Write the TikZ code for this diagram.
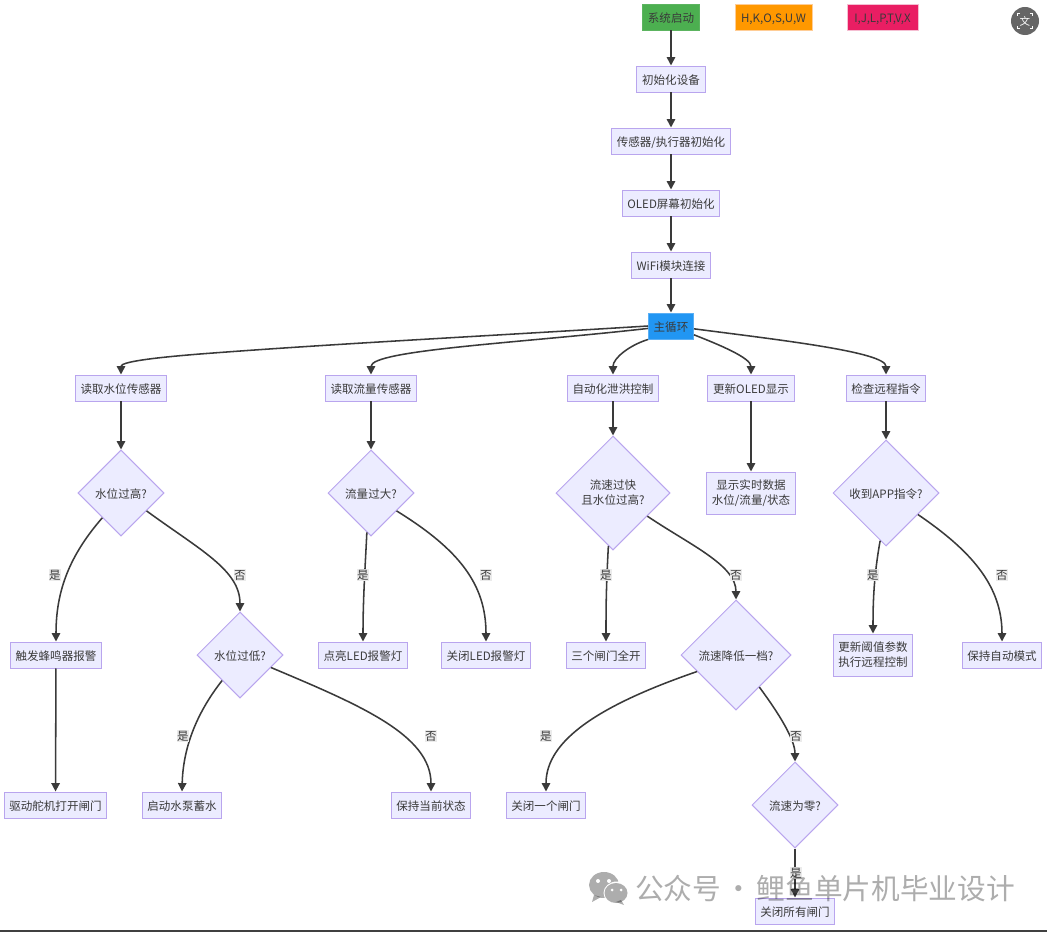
\documentclass[tikz,border=0pt]{standalone}
\usepackage{fontspec}
\setmainfont{Noto Sans CJK SC}
\usetikzlibrary{shapes.geometric,arrows.meta}

\definecolor{boxfill}{HTML}{ECECFF}
\definecolor{boxline}{HTML}{B9A5EE}
\definecolor{inktext}{HTML}{3A3A3A}
\definecolor{flowline}{HTML}{3A3A3A}
\definecolor{labelbg}{HTML}{EBEBEB}
\definecolor{startfill}{HTML}{4CAF50}
\definecolor{startline}{HTML}{5CB460}
\definecolor{orangefill}{HTML}{FF9800}
\definecolor{orangeline}{HTML}{FFCD96}
\definecolor{pinkfill}{HTML}{E91E63}
\definecolor{pinkline}{HTML}{F5BED2}
\definecolor{loopfill}{HTML}{2196F3}
\definecolor{loopline}{HTML}{5AAFF5}

\tikzset{
  plainbox/.style = {draw=boxline, fill=boxfill, line width=.7pt, text=inktext, font=\fontsize{8.2}{10.8}\selectfont, align=center, inner xsep=.13cm, inner ysep=.08cm},
  box/.style = {plainbox, minimum height=.65cm, text height=8.4pt, text depth=1pt},
  tallbox/.style = {plainbox, minimum height=1.05cm},
  plaindecision/.style = {draw=boxline, fill=boxfill, line width=.7pt, text=inktext, font=\fontsize{8.2}{10.8}\selectfont, align=center, shape=diamond, aspect=1, inner sep=0pt, minimum width=#1, minimum height=#1},
  decision/.style = {plaindecision=#1, text height=8.4pt, text depth=1pt},
  flow/.style = {draw=flowline, line width=1.1pt, -{Triangle[length=6pt,width=6pt]}},
  lbl/.style = {fill=labelbg, text=inktext, font=\fontsize{8.2}{10}\selectfont, inner sep=.5pt},
}

\begin{document}
\begin{tikzpicture}[x=0.025cm, y=-0.025cm]
\useasboundingbox (0,0) rectangle (1047,932);

\node[box, fill=startfill, draw=startline] (start) at (671,17) {系统启动};
\node[box, fill=orangefill, draw=orangeline, minimum width=1.925cm] (orangekey) at (773.5,17.5) {H,K,O,S,U,W};
\node[box, fill=pinkfill, draw=pinkline, minimum width=1.775cm] (pinkkey) at (882.5,17.5) {I,J,L,P,T,V,X};

\node[box] (init) at (671,79) {初始化设备};
\node[box] (devices) at (671,141) {传感器/执行器初始化};
\node[box] (oled) at (671,203) {OLED屏幕初始化};
\node[box] (wifi) at (671,265) {WiFi模块连接};
\node[box, fill=loopfill, draw=loopline] (mainloop) at (671,326) {主循环};

\node[box] (level) at (121,388) {读取水位传感器};
\node[box] (rate) at (371,388) {读取流量传感器};
\node[box] (auto) at (613,388) {自动化泄洪控制};
\node[box] (show) at (751,388) {更新OLED显示};
\node[box] (remote) at (886,388) {检查远程指令};

\node[decision=2.15cm] (high) at (121,493) {水位过高?};
\node[decision=2.15cm] (big) at (371,493) {流量过大?};
\node[plaindecision=2.85cm] (fast) at (613,493) {流速过快\\且水位过高?};
\node[tallbox] (data) at (751,493) {显示实时数据\\水位/流量/状态};
\node[decision=2.65cm] (app) at (886,493) {收到APP指令?};

\node[box] (buzzer) at (56,655) {触发蜂鸣器报警};
\node[decision=2.15cm] (low) at (240,655) {水位过低?};
\node[box] (ledon) at (363,655) {点亮LED报警灯};
\node[box] (ledoff) at (486,655) {关闭LED报警灯};
\node[box] (allopen) at (606,655) {三个闸门全开};
\node[decision=2.75cm] (slower) at (736,655) {流速降低一档?};
\node[tallbox] (params) at (873,655) {更新阈值参数\\执行远程控制};
\node[box] (keepauto) at (1002,655) {保持自动模式};

\node[box] (servo) at (55.5,805) {驱动舵机打开闸门};
\node[box] (pump) at (182,805) {启动水泵蓄水};
\node[box] (keep) at (431,805) {保持当前状态};
\node[box] (closeone) at (546,805) {关闭一个闸门};
\node[decision=2.15cm] (zero) at (795,805) {流速为零?};
\node[box] (closeall) at (795,911) {关闭所有闸门};

\draw[flow] (start) -- (init);
\draw[flow] (init) -- (devices);
\draw[flow] (devices) -- (oled);
\draw[flow] (oled) -- (wifi);
\draw[flow] (wifi) -- (mainloop);

\draw[flow] (mainloop.west) .. controls (470,337) and (330,344) .. (200,354) .. controls (150,358) and (121,362) .. (level.north);
\draw[flow] (mainloop.-174) .. controls (520,343) and (371,350) .. (rate.north);
\draw[flow] (mainloop.south west) .. controls (630,345) and (613,358) .. (auto.north);
\draw[flow] (mainloop.-21) .. controls (720,345) and (751,358) .. (show.north);
\draw[flow] (mainloop.-7) .. controls (780,340) and (886,352) .. (remote.north);

\draw[flow] (level) -- (high);
\draw[flow] (rate) -- (big);
\draw[flow] (auto) -- (fast);
\draw[flow] (show) -- (data);
\draw[flow] (remote) -- (app);

\draw[flow] (high.-127) .. controls (70,555) and (56,590) .. (buzzer.north);
\draw[flow] (high.-35) .. controls (200,550) and (240,570) .. (low.north);
\draw[flow] (big.-96) .. controls (365,570) and (363,600) .. (ledon.north);
\draw[flow] (big.-35) .. controls (460,550) and (486,585) .. (ledoff.north);
\draw[flow] (fast.-95) .. controls (606,590) and (606,610) .. (allopen.north);
\draw[flow] (fast.-34) .. controls (690,545) and (736,565) .. (slower.north);
\draw[flow] (app.-97) .. controls (874,575) and (873,600) .. (params.north);
\draw[flow] (app.-34) .. controls (970,550) and (1002,585) .. (keepauto.north);

\draw[flow] (buzzer) -- (servo);
\draw[flow] (low.-125) .. controls (195,715) and (183,750) .. (pump.north);
\draw[flow] (low.-22) .. controls (360,705) and (431,735) .. (keep.north);
\draw[flow] (slower.-157) .. controls (600,705) and (546,740) .. (closeone.north);
\draw[flow] (slower.-54) .. controls (780,715) and (795,740) .. (zero.north);
\draw[flow] (zero) -- (closeall);

\node[lbl] (yes1) at (55,575) {是};
\node[lbl] (no1) at (240,575) {否};
\node[lbl] (yes2) at (363,575) {是};
\node[lbl] (no2) at (486,575) {否};
\node[lbl] (yes3) at (606,575) {是};
\node[lbl] (no3) at (736,575) {否};
\node[lbl] (yes4) at (873,575) {是};
\node[lbl] (no4) at (1002,575) {否};
\node[lbl] (yes5) at (183,736) {是};
\node[lbl] (no5) at (431,736) {否};
\node[lbl] (yes6) at (546,736) {是};
\node[lbl] (no6) at (796,736) {否};
\node[lbl] (yes7) at (796,873) {是};

\node[circle, fill=black!60, minimum size=.7cm, inner sep=0pt, text=white, font=\fontsize{7.5}{9}\selectfont] (translate) at (1025,21) {文};
\foreach \sx/\sy in {-1/-1, 1/-1, 1/1, -1/1}
  \draw[white, line width=.6pt] ([xshift=\sx*.12cm, yshift=\sy*.18cm]translate.center) -- ([xshift=\sx*.18cm, yshift=\sy*.18cm]translate.center) -- ([xshift=\sx*.18cm, yshift=\sy*.12cm]translate.center);

\fill[black, opacity=.32] (604,885) ellipse (15 and 13);
\fill[black, opacity=.32] (594,895) -- (592,902) -- (601,897) -- cycle;
\fill[white] (617,893) ellipse (13.5 and 11.5);
\fill[black, opacity=.32] (616,893) ellipse (11.5 and 10);
\fill[black, opacity=.32] (621,900) -- (624,905) -- (616,902) -- cycle;
\fill[white] (598,881) circle (2) (609,881) circle (2) (612,890) circle (1.5) (621,890) circle (1.5);
\node[text=black, text opacity=.32, font=\fontsize{20.4}{24}\selectfont, inner sep=0pt] (mark) at (825,889) {公众号\hspace{2.5pt}·\hspace{2.5pt}鲤鱼单片机毕业设计};

\fill[black!75] (0,930) rectangle (1047,932);

\end{tikzpicture}
\end{document}
